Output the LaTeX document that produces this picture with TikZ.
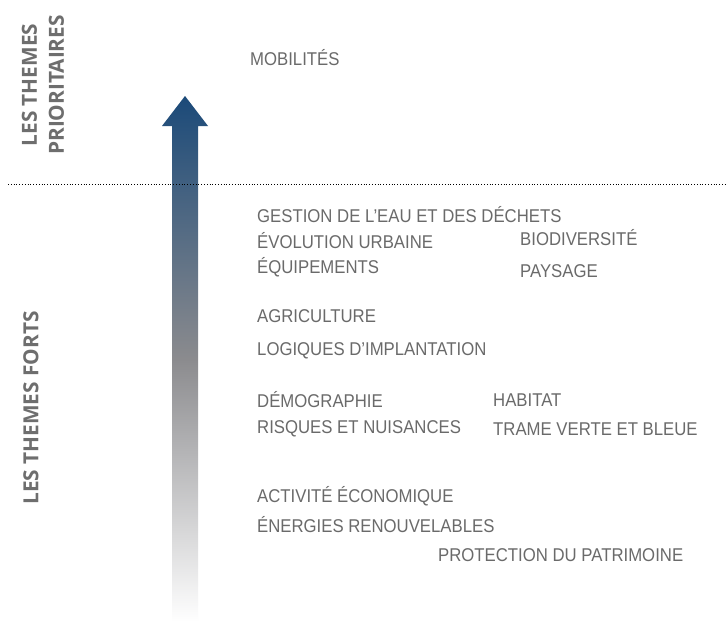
\documentclass[tikz,border=0pt]{standalone}
\usepackage{fontspec}
\newfontfamily\itemfont[FakeStretch=0.905]{Liberation Sans}
\newfontfamily\sidefont{Open Sans}
\definecolor{itemgray}{HTML}{6A6A6A}
\definecolor{sidegray}{HTML}{6E6E6E}
\definecolor{navy}{HTML}{1B4A79}
\definecolor{midgray}{HTML}{8B8B8E}
\tikzset{
  item/.style={anchor=base west, inner sep=0pt, text=itemgray, font=\itemfont\fontsize{18.5}{20}\selectfont},
  side/.style={rotate=90, inner sep=0pt, text=sidegray, align=center, font=\sidefont\bfseries\fontsize{20.8}{27}\selectfont}
}
\begin{document}
\begin{tikzpicture}[x=1pt,y=-1pt]
\useasboundingbox[fill=white] (0,0) rectangle (727,626);
% arrow
\shade[top color=navy, bottom color=white, middle color=midgray]
  (185,96) -- (208,126) -- (198,126) -- (198,622) -- (172,622) -- (172,126) -- (162,126) -- cycle;
\coordinate (lstart) at (8,184);
\coordinate (lend) at (727,184);
\draw[dotted, line width=0.8pt] (lstart) -- (lend);
% side labels
\node[side] (prio) at (43,85) {LES THEMES\\PRIORITAIRES};
\node[side] (forts) at (31,408) {LES THEMES FORTS};
% items
\node[item] (mob) at (250,66) {MOBILITÉS};
\node[item] (eau) at (257,222) {GESTION DE L’EAU ET DES DÉCHETS};
\node[item] (evo) at (257,248) {ÉVOLUTION URBAINE};
\node[item] (bio) at (520,245) {BIODIVERSITÉ};
\node[item] (equ) at (257,273) {ÉQUIPEMENTS};
\node[item] (pay) at (520,277) {PAYSAGE};
\node[item] (agr) at (257,322) {AGRICULTURE};
\node[item] (log) at (257,355) {LOGIQUES D’IMPLANTATION};
\node[item] (dem) at (257,407) {DÉMOGRAPHIE};
\node[item] (hab) at (493,406) {HABITAT};
\node[item] (ris) at (257,433) {RISQUES ET NUISANCES};
\node[item] (tvb) at (493,435) {TRAME VERTE ET BLEUE};
\node[item] (act) at (257,502) {ACTIVITÉ ÉCONOMIQUE};
\node[item] (ene) at (257,532) {ÉNERGIES RENOUVELABLES};
\node[item] (pat) at (438,561) {PROTECTION DU PATRIMOINE};
\end{tikzpicture}
\end{document}
